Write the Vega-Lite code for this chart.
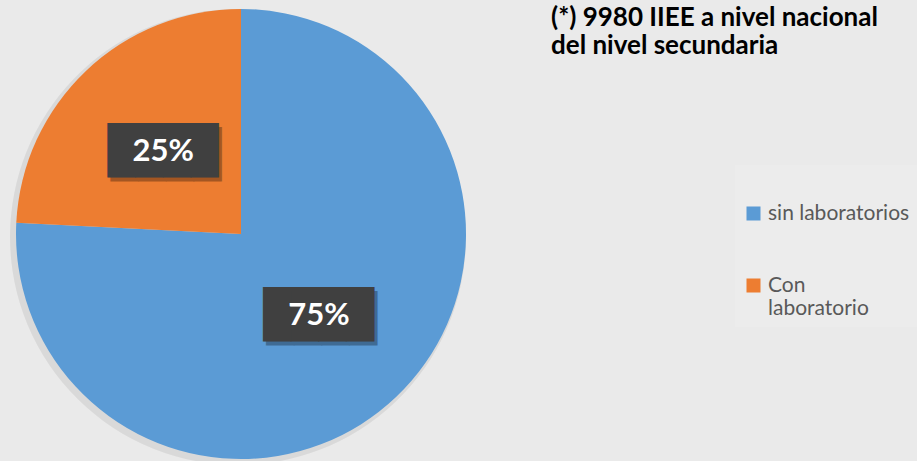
{
  "$schema": "https://vega.github.io/schema/vega-lite/v6.json",
  "autosize": {"type": "none"},
  "width": 482,
  "height": 454,
  "padding": {"left": 0, "top": 7, "right": 435, "bottom": 0},
  "background": "#eaeaea",
  "title": {
    "text": ["(*) 9980 IIEE a nivel nacional", "del nivel secundaria"],
    "anchor": "start",
    "frame": "group",
    "orient": "top",
    "dx": 551,
    "dy": 56,
    "font": "Lato",
    "fontSize": 26,
    "fontWeight": "bold",
    "color": "#000000",
    "lineHeight": 28,
    "baseline": "top"
  },
  "data": {
    "values": [
      {"categoria": "sin laboratorios", "valor": 75.8, "etiqueta": "75%"},
      {"categoria": "Con laboratorio", "valor": 24.2, "etiqueta": "25%"}
    ]
  },
  "encoding": {
    "theta": {"field": "valor", "type": "quantitative", "stack": true},
    "order": {"field": "valor", "type": "quantitative", "sort": "descending"}
  },
  "layer": [
    {
      "mark": {"type": "arc", "radius": 228, "stroke": null, "color": "#000000", "opacity": 0.07, "xOffset": -3, "yOffset": 3}
    },
    {
      "mark": {"type": "arc", "radius": 225, "stroke": null},
      "encoding": {
        "color": {
          "field": "categoria",
          "type": "nominal",
          "sort": ["sin laboratorios", "Con laboratorio"],
          "scale": {"domain": ["sin laboratorios", "Con laboratorio"], "range": ["#5B9BD5", "#ED7D31"]},
          "legend": {
            "orient": "none",
            "legendX": 735,
            "legendY": 158,
            "title": " ",
            "titleFontSize": 22,
            "titlePadding": 8,
            "symbolType": "square",
            "symbolSize": 196,
            "symbolStrokeWidth": 0,
            "symbolOpacity": 1,
            "labelFont": "Lato",
            "labelFontSize": 21,
            "labelColor": "#595959",
            "labelLimit": 300,
            "labelOffset": 4,
            "rowPadding": 50,
            "padding": 8,
            "fillColor": "#ececec",
            "labelExpr": "datum.label == 'Con laboratorio' ? ['Con', 'laboratorio'] : datum.label",
            "encode": {
              "labels": {
                "update": {
                  "fill": {"signal": "datum.value == 'Con laboratorio' ? '#1a1a1a' : '#595959'"}
                }
              }
            }
          }
        }
      }
    },
    {
      "mark": {"type": "text", "radius": 113, "font": "DejaVu Sans Mono", "fontSize": 46, "align": "center", "baseline": "middle", "color": "#000000", "opacity": 0.3, "dx": 3, "dy": 4},
      "encoding": {"text": {"value": "████"}}
    },
    {
      "mark": {"type": "text", "radius": 113, "font": "DejaVu Sans Mono", "fontSize": 46, "align": "center", "baseline": "middle", "color": "#404040", "opacity": 1},
      "encoding": {"text": {"value": "████"}}
    },
    {
      "mark": {"type": "text", "radius": 113, "font": "Lato", "fontSize": 31, "fontWeight": "bold", "align": "center", "baseline": "middle", "color": "#ffffff"},
      "encoding": {"text": {"field": "etiqueta", "type": "nominal"}}
    }
  ],
  "config": {
    "view": {
      "stroke": null,
      "fill": {
        "gradient": "radial",
        "x1": 1.25, "y1": 0.5, "r1": 0,
        "x2": 1.25, "y2": 0.5, "r2": 1.6,
        "stops": [
          {"offset": 0, "color": "#ffffff"},
          {"offset": 0.4, "color": "#f8f8f8"},
          {"offset": 1, "color": "#e0e0e0"}
        ]
      }
    }
  }
}
